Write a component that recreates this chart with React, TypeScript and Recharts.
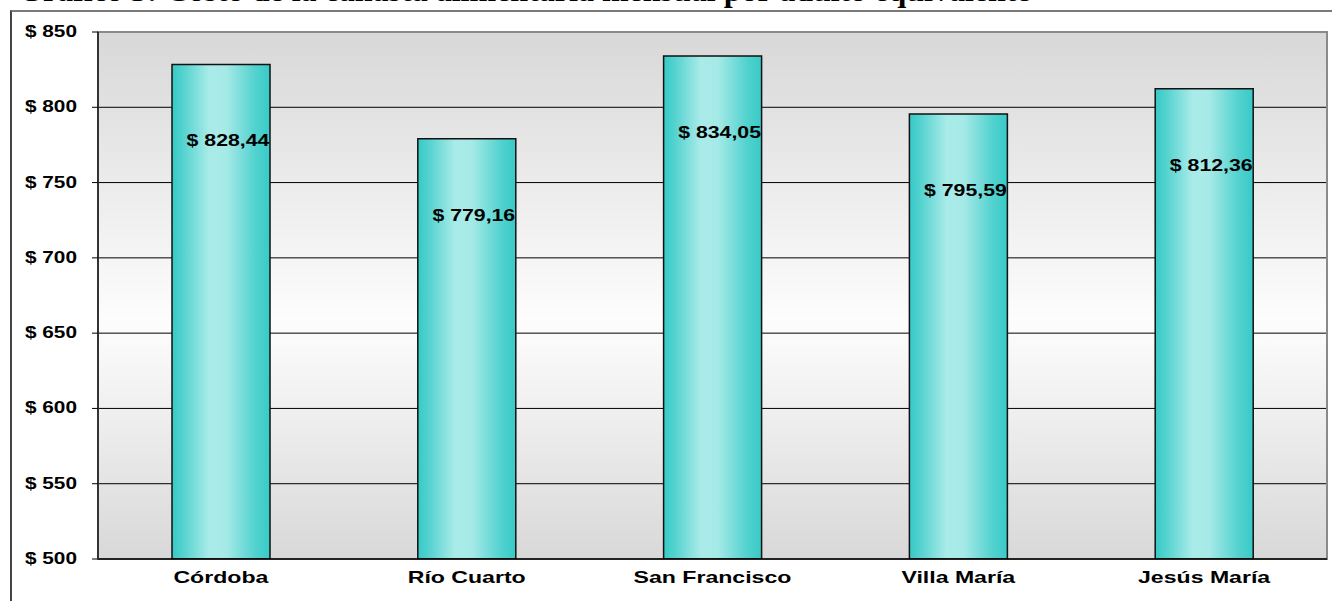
import { BarChart, Bar, XAxis, YAxis, CartesianGrid, ReferenceArea, LabelList } from 'recharts';

const ciudades = ['Córdoba', 'Río Cuarto', 'San Francisco', 'Villa María', 'Jesús María'];
const costos = [828.44, 779.16, 834.05, 795.59, 812.36];
const yTicks = [500, 550, 600, 650, 700, 750, 800, 850];
const edgeTicks = [0, 1, 2, 3, 4, 5];

const data = ciudades.map((ciudad, i) => ({ ciudad, costo: costos[i] }));

const pesos = (v: number) => '$ ' + v.toFixed(2).replace('.', ',');

function YTick(props: any) {
    const { x, y, payload } = props;
    return (
        <text
            transform={`translate(${x},${y}) scale(1.3,1)`}
            textAnchor="end"
            dy={5}
            fontFamily="Arial, 'Liberation Sans', sans-serif"
            fontWeight="bold"
            fontSize={16}
            fill="#000"
        >
            {'$ ' + payload.value}
        </text>
    );
}

function XTick(props: any) {
    const { x, y, payload } = props;
    return (
        <text
            transform={`translate(${x},${y}) scale(1.4,1)`}
            textAnchor="middle"
            dy={16}
            fontFamily="Arial, 'Liberation Sans', sans-serif"
            fontWeight="bold"
            fontSize={16.5}
            fill="#000"
        >
            {payload.value}
        </text>
    );
}

function BarLabel(props: any) {
    const { x, y, width, value } = props;
    return (
        <text
            transform={`translate(${x + width / 2 + 7},${y + 82}) scale(1.33,1)`}
            textAnchor="middle"
            fontFamily="Arial, 'Liberation Sans', sans-serif"
            fontWeight="bold"
            fontSize={16}
            fill="#000"
        >
            {pesos(value)}
        </text>
    );
}

function App() {
    return (
        <div style={{ position: 'absolute', left: 0, top: 0, width: 1332, height: 601, overflow: 'hidden', background: '#fff' }}>
            {/* title is cut off at the top edge in the original */}
            <div
                style={{
                    position: 'absolute',
                    left: 18,
                    top: -26,
                    whiteSpace: 'nowrap',
                    fontFamily: "'Liberation Serif', 'Times New Roman', serif",
                    fontWeight: 'bold',
                    fontSize: 32,
                    lineHeight: 1,
                    color: '#000',
                }}
            >
                Gráfico 3: Costo de la canasta alimentaria mensual por adulto equivalente
            </div>
            <div
                style={{
                    position: 'absolute',
                    left: 10,
                    top: 10,
                    width: 1340,
                    height: 600,
                    borderTop: '2px solid #7a7a7a',
                    borderLeft: '2px solid #444',
                }}
            />
            <BarChart
                width={1332}
                height={601}
                data={data}
                margin={{ top: 32, right: 5, bottom: 12, left: 0 }}
                style={{ position: 'absolute', left: 0, top: 0 }}
            >
                <defs>
                    <linearGradient id="fondo" x1="0" y1="0" x2="0" y2="1">
                        <stop offset="0" stopColor="#d8d8d8" />
                        <stop offset="0.55" stopColor="#fdfdfd" />
                        <stop offset="1" stopColor="#d8d8d8" />
                    </linearGradient>
                    <linearGradient id="barra" x1="0" y1="0" x2="1" y2="0">
                        <stop offset="0" stopColor="#36c9c6" />
                        <stop offset="0.12" stopColor="#56d3d0" />
                        <stop offset="0.38" stopColor="#a9ebe8" />
                        <stop offset="0.55" stopColor="#a6eae7" />
                        <stop offset="0.85" stopColor="#52d2cf" />
                        <stop offset="1" stopColor="#38cac7" />
                    </linearGradient>
                </defs>
                <CartesianGrid vertical={false} stroke="#000" strokeWidth={1} fill="url(#fondo)" fillOpacity={1} />
                <ReferenceArea y1={500} y2={850} fill="none" stroke="#8a8a8a" strokeWidth={2} ifOverflow="visible" />
                <XAxis
                    xAxisId="bordes"
                    type="number"
                    dataKey={() => 0}
                    domain={[0, 5]}
                    ticks={edgeTicks}
                    height={0}
                    tick={false}
                    tickSize={6}
                    tickLine={{ stroke: '#000' }}
                    axisLine={false}
                />
                <XAxis
                    dataKey="ciudad"
                    height={30}
                    tickLine={false}
                    axisLine={{ stroke: '#000', strokeWidth: 1.5 }}
                    tick={<XTick />}
                    interval={0}
                />
                <YAxis
                    domain={[500, 850]}
                    ticks={yTicks}
                    width={98}
                    tickSize={6}
                    tickMargin={15}
                    tickLine={{ stroke: '#000' }}
                    axisLine={{ stroke: '#333', strokeWidth: 2 }}
                    tick={<YTick />}
                    allowDataOverflow
                />
                <Bar dataKey="costo" fill="url(#barra)" stroke="#111" strokeWidth={1.5} barSize={98} isAnimationActive={false}>
                    <LabelList dataKey="costo" content={<BarLabel />} />
                </Bar>
            </BarChart>
        </div>
    );
}

export default App;
